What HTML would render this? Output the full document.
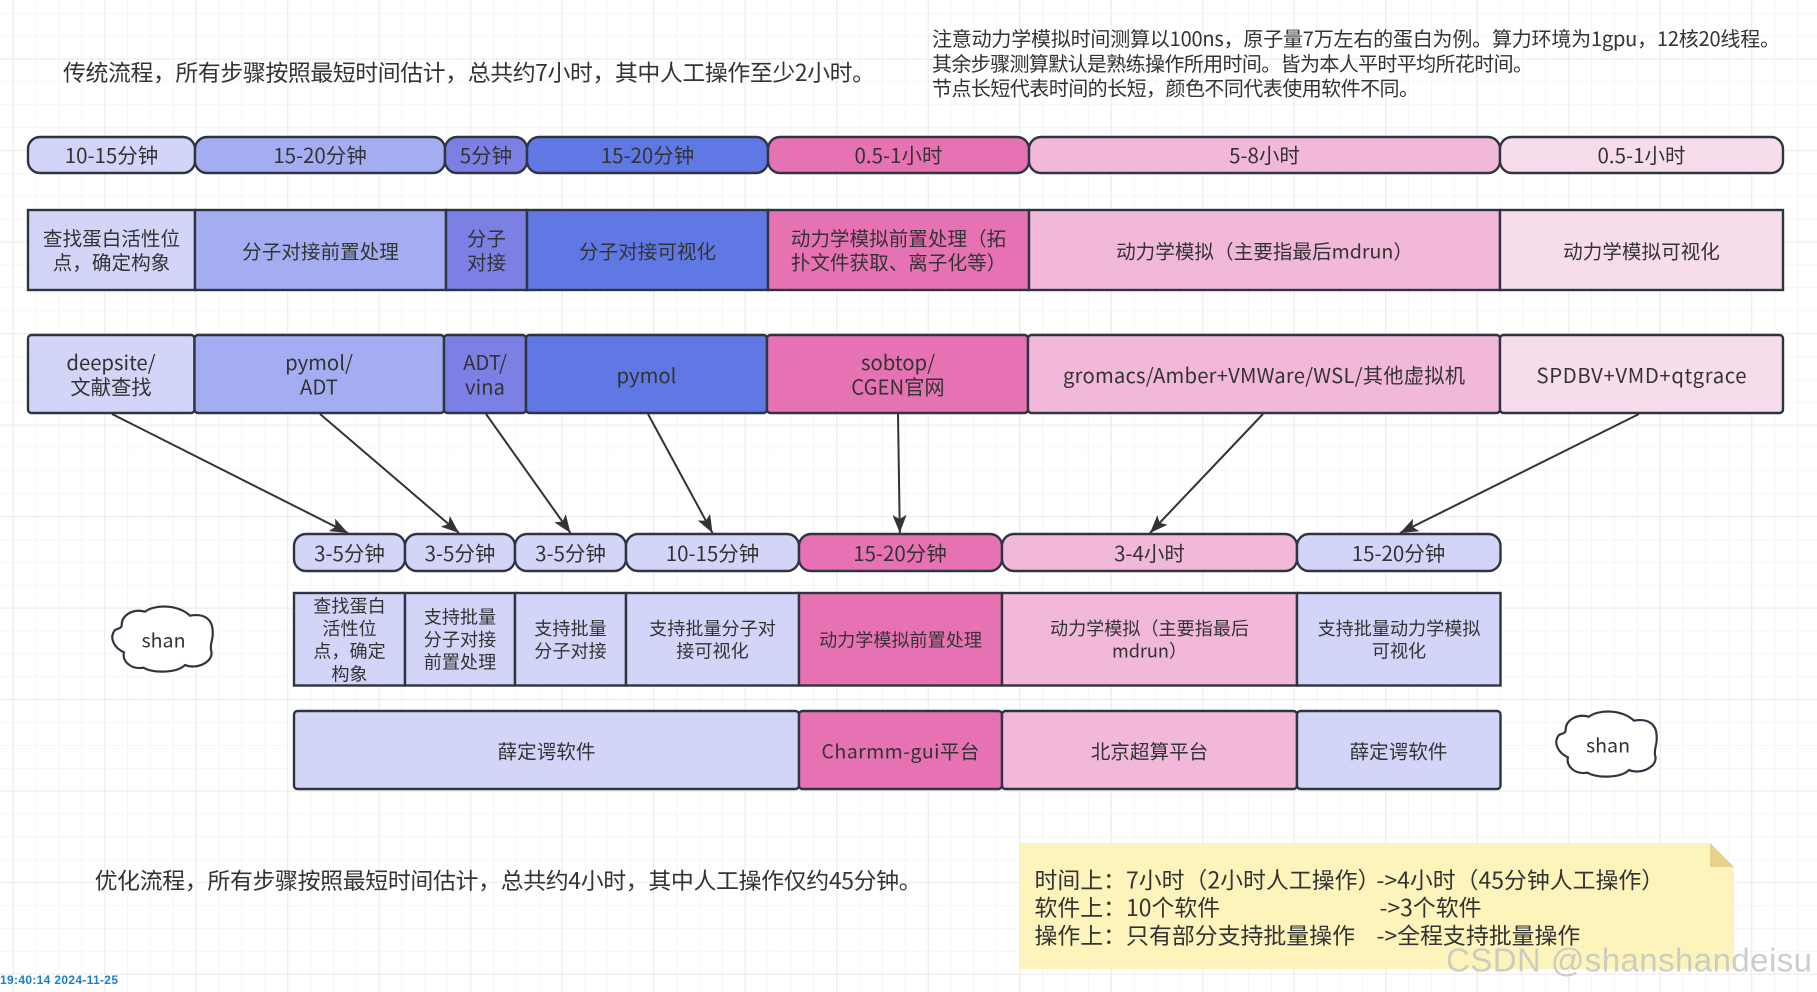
<!DOCTYPE html>
<html><head><meta charset="utf-8">
<style>
html,body{margin:0;padding:0;background:#fff;width:1817px;height:992px;overflow:hidden}
svg{display:block}
text{font-family:"Noto Sans CJK SC","Liberation Sans",sans-serif;fill:#333;dominant-baseline:central;transform:translateY(-1.2px)}
.n text,text.n{transform:none}
.c{text-anchor:middle}
.r{stroke:#2e3440;stroke-width:2.4}
</style></head><body>
<svg width="1817" height="992" viewBox="0 0 1817 992" xmlns="http://www.w3.org/2000/svg">
<defs>
<pattern id="mi" width="22.875" height="22.875" patternUnits="userSpaceOnUse" patternTransform="translate(12.8,13)">
<path d="M0 0H22.875M0 0V22.875" fill="none" stroke="#f0f0f0" stroke-width="1.2"/></pattern>
<pattern id="ma" width="91.5" height="91.5" patternUnits="userSpaceOnUse" patternTransform="translate(12.8,58.7)">
<path d="M0 0H91.5M0 0V91.5" fill="none" stroke="#e7e7e7" stroke-width="1.6"/></pattern>
<marker id="ah" markerUnits="userSpaceOnUse" markerWidth="24" markerHeight="20" viewBox="-20 -10 24 20" refX="0" refY="0" orient="auto">
<path d="M0 0L-18 -7L-14 0L-18 7Z" fill="#333"/></marker>
</defs>
<rect width="1817" height="992" fill="#fff"/>
<rect width="1817" height="992" fill="url(#mi)"/>
<rect width="1817" height="992" fill="url(#ma)"/>

<text x="63" y="72" font-size="22.9" textLength="812">传统流程，所有步骤按照最短时间估计，总共约7小时，其中人工操作至少2小时。</text>
<text x="932" y="38.5" font-size="20" textLength="848">注意动力学模拟时间测算以100ns，原子量7万左右的蛋白为例。算力环境为1gpu，12核20线程。</text>
<text x="932" y="63.5" font-size="20" textLength="601">其余步骤测算默认是熟练操作所用时间。皆为本人平时平均所花时间。</text>
<text x="932" y="88" font-size="20" textLength="487">节点长短代表时间的长短，颜色不同代表使用软件不同。</text>

<!-- row 1 -->
<g class="r">
<rect x="28" y="137" width="167" height="36" rx="12" fill="#d3d5f8"/>
<rect x="195" y="137" width="250" height="36" rx="12" fill="#a5adf2"/>
<rect x="445" y="137" width="82" height="36" rx="12" fill="#7c80e4"/>
<rect x="527" y="137" width="241" height="36" rx="12" fill="#5f78e4"/>
<rect x="768" y="137" width="261" height="36" rx="12" fill="#e672b3"/>
<rect x="1029" y="137" width="471" height="36" rx="12" fill="#f2b8d9"/>
<rect x="1500" y="137" width="283" height="36" rx="12" fill="#f7dcec"/>
</g>
<g font-size="20.5">
<text class="c" x="111.5" y="155">10-15分钟</text>
<text class="c" x="320" y="155">15-20分钟</text>
<text class="c" x="486" y="155">5分钟</text>
<text class="c" x="647.5" y="155">15-20分钟</text>
<text class="c" x="898.5" y="155">0.5-1小时</text>
<text class="c" x="1264.5" y="155">5-8小时</text>
<text class="c" x="1641.5" y="155">0.5-1小时</text>
</g>

<!-- row 2 -->
<g class="r">
<rect x="28" y="210" width="167" height="80" fill="#d3d5f8"/>
<rect x="195" y="210" width="251" height="80" fill="#a5adf2"/>
<rect x="446" y="210" width="81" height="80" fill="#7c80e4"/>
<rect x="527" y="210" width="241" height="80" fill="#5f78e4"/>
<rect x="768" y="210" width="261" height="80" fill="#e672b3"/>
<rect x="1029" y="210" width="471" height="80" fill="#f2b8d9"/>
<rect x="1500" y="210" width="283" height="80" fill="#f7dcec"/>
</g>
<g font-size="19.6">
<text class="c" x="111.5" y="238">查找蛋白活性位</text>
<text class="c" x="111.5" y="262">点，确定构象</text>
<text class="c" x="320.5" y="251">分子对接前置处理</text>
<text class="c" x="486.5" y="238">分子</text>
<text class="c" x="486.5" y="262">对接</text>
<text class="c" x="647.5" y="251">分子对接可视化</text>
<text class="c" x="898.5" y="238">动力学模拟前置处理（拓</text>
<text class="c" x="898.5" y="262">扑文件获取、离子化等）</text>
<text class="c" x="1264.5" y="251">动力学模拟（主要指最后mdrun）</text>
<text class="c" x="1641.5" y="251">动力学模拟可视化</text>
</g>

<!-- row 3 -->
<g class="r">
<rect x="28" y="335" width="166.5" height="78" rx="3.5" fill="#d3d5f8"/>
<rect x="194.5" y="335" width="249.5" height="78" rx="3.5" fill="#a5adf2"/>
<rect x="444" y="335" width="82" height="78" rx="3.5" fill="#7c80e4"/>
<rect x="526" y="335" width="241" height="78" rx="3.5" fill="#5f78e4"/>
<rect x="767" y="335" width="261" height="78" rx="3.5" fill="#e672b3"/>
<rect x="1028" y="335" width="472" height="78" rx="3.5" fill="#f2b8d9"/>
<rect x="1500" y="335" width="283" height="78" rx="3.5" fill="#f7dcec"/>
</g>
<g font-size="20.3">
<text class="c" x="111" y="362">deepsite/</text>
<text class="c" x="111" y="386.5">文献查找</text>
<text class="c" x="319" y="362">pymol/</text>
<text class="c" x="319" y="386.5">ADT</text>
<text class="c" x="485" y="362">ADT/</text>
<text class="c" x="485" y="386.5">vina</text>
<text class="c" x="646.5" y="375">pymol</text>
<text class="c" x="898" y="362">sobtop/</text>
<text class="c" x="898" y="386.5">CGEN官网</text>
<text class="c" x="1264" y="375" textLength="402">gromacs/Amber+VMWare/WSL/其他虚拟机</text>
<text class="c" x="1641.5" y="375" textLength="210">SPDBV+VMD+qtgrace</text>
</g>

<!-- arrows -->
<g stroke="#333" stroke-width="2" fill="none">
<path d="M112 414L348 533" marker-end="url(#ah)"/>
<path d="M320 414L459 533" marker-end="url(#ah)"/>
<path d="M486 414L570.5 533" marker-end="url(#ah)"/>
<path d="M648 414L712.5 533" marker-end="url(#ah)"/>
<path d="M898 414L899.8 533" marker-end="url(#ah)"/>
<path d="M1263 414L1150 533" marker-end="url(#ah)"/>
<path d="M1639 414L1400 533" marker-end="url(#ah)"/>
</g>

<!-- row 4 -->
<g class="r">
<rect x="294" y="534" width="111" height="37" rx="12" fill="#d3d5f8"/>
<rect x="405" y="534" width="110" height="37" rx="12" fill="#d3d5f8"/>
<rect x="515" y="534" width="111" height="37" rx="12" fill="#d3d5f8"/>
<rect x="626" y="534" width="173" height="37" rx="12" fill="#d3d5f8"/>
<rect x="799" y="534" width="203" height="37" rx="12" fill="#e672b3"/>
<rect x="1002" y="534" width="295" height="37" rx="12" fill="#f2b8d9"/>
<rect x="1297" y="534" width="203.5" height="37" rx="12" fill="#d3d5f8"/>
</g>
<g font-size="20.5">
<text class="c" x="349.5" y="553">3-5分钟</text>
<text class="c" x="460" y="553">3-5分钟</text>
<text class="c" x="570.5" y="553">3-5分钟</text>
<text class="c" x="712.5" y="553">10-15分钟</text>
<text class="c" x="900" y="553">15-20分钟</text>
<text class="c" x="1149.5" y="553">3-4小时</text>
<text class="c" x="1398.5" y="553">15-20分钟</text>
</g>

<!-- row 5 -->
<g class="r">
<rect x="294" y="593" width="111" height="92.5" fill="#d3d5f8"/>
<rect x="405" y="593" width="110" height="92.5" fill="#d3d5f8"/>
<rect x="515" y="593" width="111" height="92.5" fill="#d3d5f8"/>
<rect x="626" y="593" width="173" height="92.5" fill="#d3d5f8"/>
<rect x="799" y="593" width="203" height="92.5" fill="#e672b3"/>
<rect x="1002" y="593" width="295" height="92.5" fill="#f2b8d9"/>
<rect x="1297" y="593" width="203.5" height="92.5" fill="#d3d5f8"/>
</g>
<g font-size="18.1" class="n">
<text class="c" x="349.5" y="605.5">查找蛋白</text>
<text class="c" x="349.5" y="628">活性位</text>
<text class="c" x="349.5" y="650.7">点，确定</text>
<text class="c" x="349.5" y="673.5">构象</text>
<text class="c" x="460" y="616.5">支持批量</text>
<text class="c" x="460" y="639">分子对接</text>
<text class="c" x="460" y="661.5">前置处理</text>
<text class="c" x="570.5" y="628">支持批量</text>
<text class="c" x="570.5" y="650.5">分子对接</text>
<text class="c" x="712.5" y="628">支持批量分子对</text>
<text class="c" x="712.5" y="650.5">接可视化</text>
<text class="c" x="900.5" y="639.5">动力学模拟前置处理</text>
<text class="c" x="1149.5" y="628">动力学模拟（主要指最后</text>
<text class="c" x="1149.5" y="650.5">mdrun）</text>
<text class="c" x="1399" y="628">支持批量动力学模拟</text>
<text class="c" x="1399" y="650.5">可视化</text>
</g>

<!-- row 6 -->
<g class="r">
<rect x="294" y="711" width="505" height="78" rx="3.5" fill="#d3d5f8"/>
<rect x="799" y="711" width="203" height="78" rx="3.5" fill="#e672b3"/>
<rect x="1002" y="711" width="295" height="78" rx="3.5" fill="#f2b8d9"/>
<rect x="1297" y="711" width="203.5" height="78" rx="3.5" fill="#d3d5f8"/>
</g>
<g font-size="19.6">
<text class="c" x="546.5" y="751">薛定谔软件</text>
<text class="c" x="900.5" y="751" textLength="158">Charmm-gui平台</text>
<text class="c" x="1149.5" y="751">北京超算平台</text>
<text class="c" x="1398.5" y="751">薛定谔软件</text>
</g>

<!-- clouds -->
<g transform="translate(100,595) scale(.33333)">
<path d="M65 90C65 60 100 40 135 50C160 30 230 25 270 62C310 55 340 70 338 115C340 130 330 145 333 165C345 200 290 225 255 210C230 235 160 235 130 218C90 225 65 195 72 172C45 160 25 130 45 105C55 100 65 100 65 90Z" fill="#fff" stroke="#2e3440" stroke-width="6.5"/>
</g>
<text class="c" x="163.5" y="640" font-size="19.6">shan</text>
<g transform="translate(1544,700) scale(.33333)">
<path d="M65 90C65 60 100 40 135 50C160 30 230 25 270 62C310 55 340 70 338 115C340 130 330 145 333 165C345 200 290 225 255 210C230 235 160 235 130 218C90 225 65 195 72 172C45 160 25 130 45 105C55 100 65 100 65 90Z" fill="#fff" stroke="#2e3440" stroke-width="6.5"/>
</g>
<text class="c" x="1608" y="745" font-size="19.6">shan</text>

<text x="94.6" y="880" font-size="22.9" textLength="827">优化流程，所有步骤按照最短时间估计，总共约4小时，其中人工操作仅约45分钟。</text>

<!-- note -->
<path d="M1020 843H1710L1734 867V969H1020Z" fill="#fdf4bc"/>
<path d="M1710 843L1734 867H1710Z" fill="#e6d28a"/>
<g font-size="22.9">
<text x="1034.5" y="879.5">时间上：7小时（2小时人工操作）</text>
<text x="1376.5" y="879.5">-&gt;4小时（45分钟人工操作）</text>
<text x="1034.5" y="907">软件上：10个软件</text>
<text x="1379.5" y="907">-&gt;3个软件</text>
<text x="1034.5" y="935">操作上：只有部分支持批量操作</text>
<text x="1376.5" y="935">-&gt;全程支持批量操作</text>
</g>

<text class="n" x="1446" y="960" textLength="366" font-size="33" style="font-family:'Liberation Sans',sans-serif;fill:#c4c4c4;fill-opacity:.85">CSDN @shanshandeisu</text>
<text class="n" x="0" y="980" textLength="118" font-size="12" font-weight="700" style="font-family:'Liberation Sans',sans-serif;fill:#1a7fc9">19:40:14 2024-11-25</text>
</svg>
</body></html>
